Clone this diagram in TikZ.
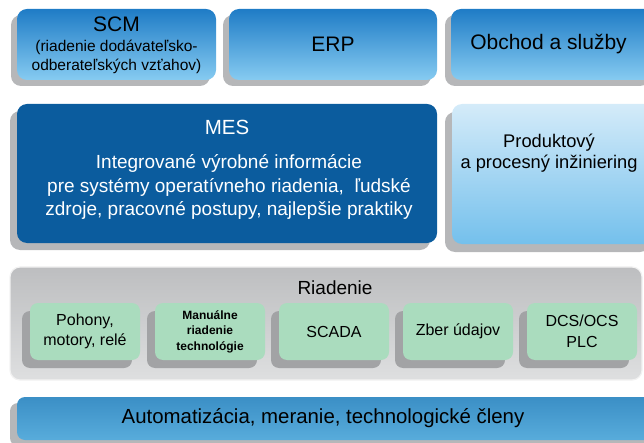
\documentclass[tikz,border=0pt]{standalone}
\usepackage{fontspec}
\setmainfont{Liberation Sans}
\usetikzlibrary{shadows}
\definecolor{topA}{HTML}{1F7CC6}
\definecolor{topB}{HTML}{86CBF1}
\definecolor{mesblue}{HTML}{0B5C9E}
\definecolor{prodA}{HTML}{D4EBF9}
\definecolor{prodB}{HTML}{74C0EC}
\definecolor{shadowgray}{HTML}{B6B7B9}
\definecolor{greenshadow}{HTML}{A2A3A5}
\definecolor{panelA}{HTML}{BDBEC0}
\definecolor{panelB}{HTML}{DEDFE0}
\definecolor{greenbox}{HTML}{AADCBE}
\definecolor{barA}{HTML}{3B8FC6}
\definecolor{barM}{HTML}{4CA2D6}
\definecolor{barB}{HTML}{58ACDB}
\newcommand\fsz[2]{\fontsize{#1bp}{#2bp}\selectfont}
\begin{document}
\begin{tikzpicture}[x=1bp,y=-1bp,
  box/.style={rectangle, rounded corners=10bp, inner sep=0pt, outer sep=0pt,
    anchor=north west, align=center},
  topbox/.style={box, top color=topA, bottom color=topB, minimum height=71bp,
    font=\fsz{21}{23},
    drop shadow={shadow xshift=-6bp, shadow yshift=-6bp, fill=shadowgray, opacity=1}},
  greenbox/.style={box, fill=greenbox, minimum width=110bp, minimum height=57bp,
    rounded corners=8bp, font=\fsz{16}{19.5},
    drop shadow={shadow xshift=-8bp, shadow yshift=-8bp, fill=greenshadow, opacity=1}},
  label/.style={inner sep=0pt, align=center}
]
\useasboundingbox (0,0) rectangle (644,443);

% top row
\node[topbox, minimum width=199bp] (scm) at (17,9) {};
\node[label, font=\fsz{21}{23}] (scmtitle) at (116.5,24.5) {SCM};
\node[label, font=\fsz{15.5}{19}] (scmsub) at (116.5,56.5)
  {(riadenie dodávateľsko-\\odberateľských vzťahov)};
\node[topbox, minimum width=208bp] (erp) at (229,9) {ERP};
\node[topbox, minimum width=205bp] (obchod) at (451,9) {\hspace*{-10bp}Obchod a služby};

% MES
\node[box, fill=mesblue, minimum width=420bp, minimum height=139bp,
  drop shadow={shadow xshift=-7bp, shadow yshift=-7bp, fill=shadowgray, opacity=1}]
  (mes) at (17,104) {};
\node[label, text=white, font=\fsz{20.5}{23}] (mestitle) at (227,127) {MES};
\node[label, text=white, font=\fsz{19}{23.5}] (mestext) at (229,187)
  {Integrované výrobné informácie\\pre systémy operatívneho riadenia,\ \ ľudské\\zdroje, pracovné postupy, najlepšie praktiky};

% Produktovy
\node[box, top color=prodA, bottom color=prodB, minimum width=205bp, minimum height=140bp,
  drop shadow={shadow xshift=-7bp, shadow yshift=-8bp, fill=shadowgray, opacity=1}]
  (prod) at (452,104) {};
\node[label, font=\fsz{18.3}{20.5}] (prodtext) at (549,153)
  {Produktový\\a procesný inžiniering};

% Riadenie panel
\node[box, top color=panelA, bottom color=panelB, draw=white!80!panelA, line width=1.2bp,
  minimum width=632bp, minimum height=113bp] (riadenie) at (10,267) {};
\node[label, font=\fsz{19}{22}] (riadtitle) at (335,288) {Riadenie};

\node[greenbox] (pohony) at (30,303) {Pohony,\\motory, relé};
\node[greenbox, font=\bfseries\fsz{12}{15.5}] (manual) at (155,303) {Manuálne\\riadenie\\technológie};
\node[greenbox] (scada) at (279,303) {SCADA};
\node[greenbox] (zber) at (403,303) {Zber údajov};
\node[greenbox, font=\fsz{16}{21}] (dcs) at (527,303) {DCS/OCS\\PLC};

% bottom bar
\node[box, top color=barA, middle color=barM, bottom color=barB, rounded corners=8bp,
  minimum width=640bp, minimum height=43bp, font=\fsz{20.4}{23},
  drop shadow={shadow xshift=-7bp, shadow yshift=-6bp, fill=shadowgray, opacity=1}]
  (auto) at (17,397) {\hspace*{-28bp}Automatizácia, meranie, technologické členy};
\end{tikzpicture}
\end{document}
